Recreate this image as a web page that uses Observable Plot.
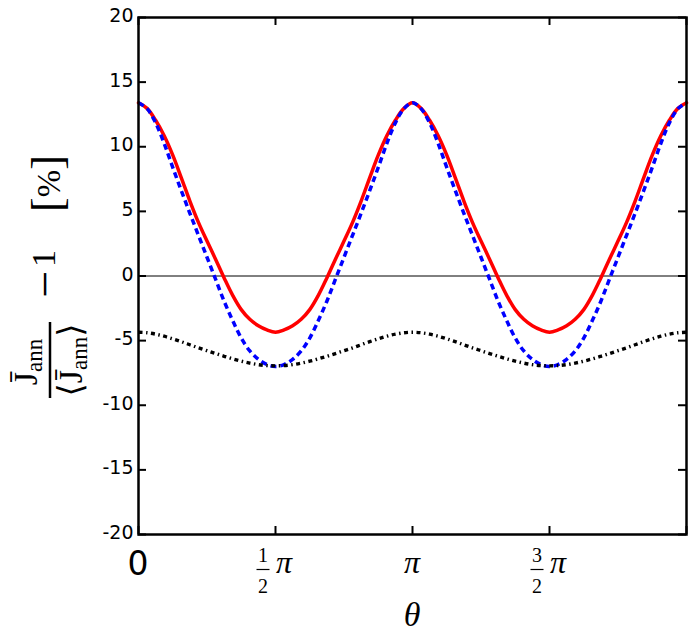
<!DOCTYPE html>
<html><head><meta charset="utf-8">
<script src="https://cdn.jsdelivr.net/npm/d3@7"></script>
<script src="https://cdn.jsdelivr.net/npm/@observablehq/plot@0.6"></script>
<style>html,body{margin:0;padding:0;background:#fff}svg{display:block}</style>
</head><body><div id="chart"></div>
<script>
const PI = Math.PI;
// sample positions: theta = k * pi/32
const thetaIndex = d3.range(65);
const redValues = [13.4,12.97,12.05,10.85,9.35,7.6,5.8,4.15,2.7,1.3,-0.15,-1.5,-2.6,-3.35,-3.85,-4.17,-4.35,-4.17,-3.85,-3.35,-2.6,-1.5,-0.15,1.3,2.7,4.15,5.8,7.6,9.35,10.85,12.05,12.97,13.4,12.97,12.05,10.85,9.35,7.6,5.8,4.15,2.7,1.3,-0.15,-1.5,-2.6,-3.35,-3.85,-4.17,-4.35,-4.17,-3.85,-3.35,-2.6,-1.5,-0.15,1.3,2.7,4.15,5.8,7.6,9.35,10.85,12.05,12.97,13.4];
const blueValues = [13.4,12.95,11.85,10.25,8.4,6.6,4.85,3.15,1.45,-0.25,-1.95,-3.45,-4.8,-5.8,-6.45,-6.85,-7.0,-6.85,-6.45,-5.8,-4.8,-3.45,-1.95,-0.25,1.45,3.15,4.85,6.6,8.4,10.25,11.85,12.95,13.4,12.95,11.85,10.25,8.4,6.6,4.85,3.15,1.45,-0.25,-1.95,-3.45,-4.8,-5.8,-6.45,-6.85,-7.0,-6.85,-6.45,-5.8,-4.8,-3.45,-1.95,-0.25,1.45,3.15,4.85,6.6,8.4,10.25,11.85,12.95,13.4];
const blackValues = [-4.35,-4.39,-4.5,-4.66,-4.86,-5.08,-5.32,-5.56,-5.78,-6.0,-6.21,-6.41,-6.59,-6.74,-6.86,-6.93,-6.95,-6.93,-6.86,-6.74,-6.59,-6.41,-6.21,-6.0,-5.78,-5.56,-5.32,-5.08,-4.86,-4.66,-4.5,-4.39,-4.35,-4.39,-4.5,-4.66,-4.86,-5.08,-5.32,-5.56,-5.78,-6.0,-6.21,-6.41,-6.59,-6.74,-6.86,-6.93,-6.95,-6.93,-6.86,-6.74,-6.59,-6.41,-6.21,-6.0,-5.78,-5.56,-5.32,-5.08,-4.86,-4.66,-4.5,-4.39,-4.35];
const yTicks = [-20,-15,-10,-5,0,5,10,15,20];
const xTicks = [0, PI/2, PI, 3*PI/2, 2*PI];
const xTickLabels = [
  {v: 0, plain: "0"},
  {v: PI/2, num: "1", den: "2", sym: "π"},
  {v: PI, sym: "π"},
  {v: 3*PI/2, num: "3", den: "2", sym: "π"}
];
const xLabel = "θ";

const rows = thetaIndex.map((k, i) => ({theta: k * PI / 32, red: redValues[i], blue: blueValues[i], black: blackValues[i]}));

const W = 692, H = 635, ML = 138, MR = 6, MT = 17, MB = 101;
const innerW = W - ML - MR, innerH = H - MT - MB, tick = 8;

const chart = Plot.plot({
  width: W, height: H,
  marginLeft: ML, marginRight: MR, marginTop: MT, marginBottom: MB,
  style: {fontFamily: "DejaVu Sans", fontSize: "19px", background: "#fff", color: "black"},
  x: {domain: [0, 2*PI], axis: null},
  y: {domain: [-20, 20], axis: null},
  marks: [
    Plot.ruleY([0], {stroke: "black", strokeWidth: 1}),
    Plot.line(rows, {x: "theta", y: "red", stroke: "#ff0000", strokeWidth: 3.5, curve: "catmull-rom"}),
    Plot.line(rows, {x: "theta", y: "blue", stroke: "#0000ff", strokeWidth: 3.5, strokeDasharray: "6,4", strokeLinecap: "butt", curve: "catmull-rom"}),
    Plot.line(rows, {x: "theta", y: "black", stroke: "black", strokeWidth: 3.4, strokeDasharray: "4,3.5,1.5,3.5", strokeLinecap: "butt", curve: "catmull-rom"}),
    Plot.tickY(yTicks, {y: d => d, insetRight: innerW - tick, stroke: "black", strokeWidth: 2}),
    Plot.tickY(yTicks, {y: d => d, insetLeft: innerW - tick, stroke: "black", strokeWidth: 2}),
    Plot.tickX(xTicks, {x: d => d, insetTop: innerH - tick, stroke: "black", strokeWidth: 2}),
    Plot.tickX(xTicks, {x: d => d, insetBottom: innerH - tick, stroke: "black", strokeWidth: 2}),
    Plot.axisY(yTicks, {anchor: "left", tickSize: 0, tickPadding: 5, tickFormat: d => String(d), label: null, dy: -1.5}),
    Plot.frame({stroke: "black", strokeWidth: 2.5})
  ]
});
document.getElementById("chart").appendChild(chart);

const svg = d3.select(chart);
const xs = chart.scale("x");
const serif = "'Liberation Serif', 'DejaVu Serif', serif";

// x tick labels
const gx = svg.append("g").attr("fill", "black");
for (const t of xTickLabels) {
  const px = xs.apply(t.v);
  if (t.plain) {
    gx.append("text").attr("x", px).attr("y", 575).attr("text-anchor", "middle")
      .attr("font-family", "DejaVu Sans").attr("font-size", 33).text(t.plain);
  } else if (t.num) {
    const fx = px - 12;
    gx.append("text").attr("x", fx).attr("y", 562).attr("text-anchor", "middle")
      .attr("font-family", serif).attr("font-size", 20).text(t.num);
    gx.append("text").attr("x", fx).attr("y", 593).attr("text-anchor", "middle")
      .attr("font-family", serif).attr("font-size", 20).text(t.den);
    gx.append("line").attr("x1", fx - 6.5).attr("x2", fx + 6.5).attr("y1", 569.5).attr("y2", 569.5)
      .attr("stroke", "black").attr("stroke-width", 1.2);
    gx.append("text").attr("x", px + 1).attr("y", 573).attr("text-anchor", "start")
      .attr("font-family", serif).attr("font-style", "italic").attr("font-size", 32).text(t.sym);
  } else {
    gx.append("text").attr("x", px).attr("y", 573).attr("text-anchor", "middle")
      .attr("font-family", serif).attr("font-style", "italic").attr("font-size", 32).text(t.sym);
  }
}
gx.append("text").attr("x", xs.apply(PI)).attr("y", 626).attr("text-anchor", "middle")
  .attr("font-family", serif).attr("font-style", "italic").attr("font-size", 34).text(xLabel);

// y axis label (rotated)
const gy = svg.append("g").attr("transform", "translate(50,398) rotate(-90)")
  .attr("font-family", serif).attr("fill", "black").attr("text-anchor", "start");
gy.append("line").attr("x1", 0).attr("x2", 76).attr("y1", 0).attr("y2", 0)
  .attr("stroke", "black").attr("stroke-width", 2.5);
const num = gy.append("text").attr("x", 36).attr("y", -13).attr("text-anchor", "middle").attr("font-size", 34);
num.append("tspan").text("J\u0304");
num.append("tspan").attr("font-size", 23).attr("dy", 5).text("ann");
const den = gy.append("text").attr("x", 38).attr("y", 32).attr("text-anchor", "middle").attr("font-size", 34);
den.append("tspan").text("\u27E8J\u0304");
den.append("tspan").attr("font-size", 23).attr("dy", 5).text("ann");
den.append("tspan").attr("dy", -5).text("\u27E9");
gy.append("text").attr("x", 100).attr("y", 11).attr("font-size", 48).text("\u2212");
gy.append("text").attr("x", 131).attr("y", 5).attr("font-size", 34).text("1");
const pct = gy.append("text").attr("x", 186).attr("y", 12);
pct.append("tspan").attr("font-size", 44).text("[");
pct.append("tspan").attr("font-size", 33).attr("dy", -2).text("%");
pct.append("tspan").attr("font-size", 44).attr("dy", 2).text("]");
</script>
</body></html>
